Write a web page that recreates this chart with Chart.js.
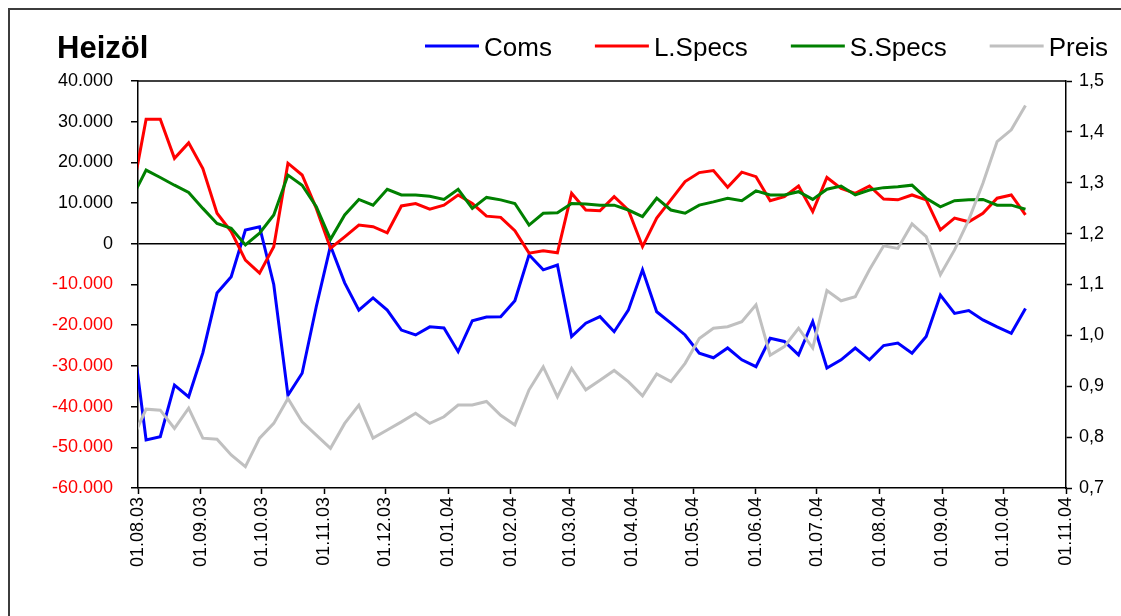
<!DOCTYPE html>
<html><head><meta charset="utf-8">
<script src="https://cdn.jsdelivr.net/npm/chart.js@4.4.1/dist/chart.umd.min.js"></script>
<style>html,body{margin:0;padding:0;background:#fff}canvas{display:block}</style>
</head><body>
<canvas id="c" width="1121" height="616"></canvas>
<script>
// ---- data ----
const chartTitle = 'Heizöl';
const seriesNames = ['Coms', 'L.Specs', 'S.Specs', 'Preis'];
const dates = [
  '29.07.03','05.08.03','12.08.03','19.08.03','26.08.03','02.09.03','09.09.03','16.09.03','23.09.03','30.09.03',
  '07.10.03','14.10.03','21.10.03','28.10.03','04.11.03','11.11.03','18.11.03','25.11.03','02.12.03','09.12.03',
  '16.12.03','23.12.03','30.12.03','06.01.04','13.01.04','20.01.04','27.01.04','03.02.04','10.02.04','17.02.04',
  '24.02.04','02.03.04','09.03.04','16.03.04','23.03.04','30.03.04','06.04.04','13.04.04','20.04.04','27.04.04',
  '04.05.04','11.05.04','18.05.04','25.05.04','01.06.04','08.06.04','15.06.04','22.06.04','29.06.04','06.07.04',
  '13.07.04','20.07.04','27.07.04','03.08.04','10.08.04','17.08.04','24.08.04','31.08.04','07.09.04','14.09.04',
  '21.09.04','28.09.04','05.10.04','12.10.04'
];
const coms = [
  -21000,-48200,-47400,-34700,-37600,-26800,-12100,-8100,3400,4200,
  -10000,-37200,-31800,-15400,-500,-9600,-16300,-13300,-16300,-21200,
  -22400,-20400,-20700,-26500,-18900,-18000,-17900,-14000,-2700,-6400,
  -5200,-22800,-19500,-17900,-21600,-16300,-6400,-16700,-19500,-22400,
  -26900,-28000,-25600,-28500,-30200,-23200,-24000,-27300,-19100,-30500,
  -28500,-25600,-28500,-25000,-24400,-26900,-22800,-12600,-17100,-16400,
  -18700,-20400,-22000,-15900
];
const lSpecs = [
  12000,30600,30600,21000,24800,18500,7500,3000,-4000,-7200,
  -700,19800,16900,8700,-1100,1700,4600,4200,2700,9300,
  9900,8500,9500,12000,9900,6800,6500,3200,-2300,-1700,
  -2200,12400,8300,8100,11600,8300,-700,6300,10800,15300,
  17500,18000,13900,17600,16500,10600,11600,14200,7900,16300,
  13600,12400,14200,11000,10800,12000,10800,3400,6300,5400,
  7500,11200,12000,7100
];
const sSpecs = [
  11300,18100,16300,14400,12600,8700,5000,3800,-300,2600,
  7100,16900,14400,9100,1100,7100,10900,9500,13400,12000,
  12000,11700,10900,13400,8700,11400,10800,9900,4600,7500,
  7600,9900,9800,9500,9500,8300,6700,11200,8300,7500,
  9500,10300,11200,10600,13000,12000,12000,12800,10900,13400,
  14200,12000,13200,13800,14000,14400,11200,9100,10600,10800,
  10900,9500,9500,8500
];
const preis = [
  0.794,0.855,0.853,0.817,0.857,0.798,0.796,0.765,0.742,0.798,
  0.827,0.876,0.830,0.804,0.778,0.827,0.863,0.798,0.814,0.830,
  0.847,0.827,0.840,0.863,0.863,0.870,0.843,0.824,0.893,0.938,
  0.879,0.935,0.893,0.912,0.931,0.909,0.881,0.924,0.909,0.945,
  0.994,1.014,1.017,1.027,1.060,0.961,0.978,1.014,0.975,1.088,
  1.068,1.076,1.129,1.176,1.171,1.219,1.194,1.119,1.168,1.227,
  1.299,1.381,1.404,1.452
];
const tickLabels = ['01.08.03','01.09.03','01.10.03','01.11.03','01.12.03','01.01.04','01.02.04','01.03.04',
  '01.04.04','01.05.04','01.06.04','01.07.04','01.08.04','01.09.04','01.10.04','01.11.04'];
const leftRange = [-60000, 40000, 10000];
const rightRange = [0.7, 1.5, 0.1];

// ---- helpers ----
const ORIGIN = Date.UTC(2003, 7, 1);
function dayOf(s) { const p = s.split('.').map(Number); return (Date.UTC(2000 + p[2], p[1] - 1, p[0]) - ORIGIN) / 86400000; }
const xDays = dates.map(dayOf);
const tickDays = tickLabels.map(dayOf);
function pts(arr) { return arr.map((v, i) => ({ x: xDays[i], y: v })); }
function fmtThousands(v) {
  const s = Math.round(Math.abs(v)).toString().replace(/\B(?=(\d{3})+(?!\d))/g, '.');
  return (v < 0 ? '-' : '') + s;
}

const FONT = '"Liberation Sans", Arial, Helvetica, sans-serif';
Chart.defaults.font.family = FONT;
Chart.defaults.font.size = 18;
Chart.defaults.color = '#000';

const colors = ['#0000FF', '#FF0000', '#008000', '#C0C0C0'];

const decoPlugin = {
  id: 'deco',
  beforeDraw(chart) {
    const ctx = chart.ctx;
    ctx.save();
    ctx.fillStyle = '#fff';
    ctx.fillRect(0, 0, chart.width, chart.height);
    ctx.strokeStyle = '#3c3c3c';
    ctx.lineWidth = 2;
    ctx.beginPath();
    ctx.moveTo(9, chart.height + 5);
    ctx.lineTo(9, 9);
    ctx.lineTo(chart.width + 5, 9);
    ctx.stroke();
    ctx.restore();
  },
  afterDraw(chart) {
    const ctx = chart.ctx, a = chart.chartArea;
    ctx.save();
    // plot area top edge
    ctx.strokeStyle = '#000';
    ctx.lineWidth = 1.5;
    ctx.beginPath();
    ctx.moveTo(a.left, a.top);
    ctx.lineTo(a.right, a.top);
    ctx.stroke();
    // title
    ctx.fillStyle = '#000';
    ctx.font = 'bold 31px ' + FONT;
    ctx.textBaseline = 'alphabetic';
    ctx.textAlign = 'left';
    ctx.fillText(chartTitle, 57, 58);
    // legend
    ctx.font = '26px ' + FONT;
    let x = 425;
    const yLine = 46, lineLen = 54, textGap = 5, itemGap = 43;
    chart.data.datasets.forEach(ds => {
      ctx.strokeStyle = ds.borderColor;
      ctx.lineWidth = 3;
      ctx.beginPath();
      ctx.moveTo(x, yLine);
      ctx.lineTo(x + lineLen, yLine);
      ctx.stroke();
      ctx.fillStyle = '#000';
      ctx.fillText(ds.label, x + lineLen + textGap, 56);
      x += lineLen + textGap + ctx.measureText(ds.label).width + itemGap;
    });
    ctx.restore();
  }
};

const datasets = [
  { label: seriesNames[0], data: pts(coms), yAxisID: 'y', order: 4 },
  { label: seriesNames[1], data: pts(lSpecs), yAxisID: 'y', order: 3 },
  { label: seriesNames[2], data: pts(sSpecs), yAxisID: 'y', order: 2 },
  { label: seriesNames[3], data: pts(preis), yAxisID: 'y1', order: 1 }
].map((d, i) => Object.assign(d, {
  borderColor: colors[i], backgroundColor: colors[i], borderWidth: 3,
  pointRadius: 0, pointHoverRadius: 0, tension: 0, clip: 0, borderJoinStyle: 'miter'
}));

new Chart(document.getElementById('c'), {
  type: 'line',
  data: { datasets },
  plugins: [decoPlugin],
  options: {
    responsive: false,
    animation: false,
    events: [],
    layout: { padding: { top: 81, left: 0, right: 0, bottom: 0 } },
    plugins: { legend: { display: false }, title: { display: false }, tooltip: { enabled: false } },
    scales: {
      x: {
        type: 'linear', position: 'bottom',
        min: tickDays[0], max: tickDays[tickDays.length - 1],
        afterBuildTicks: s => { s.ticks = tickDays.map(v => ({ value: v })); },
        afterFit: s => { s.height = 128; },
        ticks: {
          autoSkip: false, maxRotation: 90, minRotation: 90, padding: 3,
          color: '#000', font: { size: 18 },
          callback: (v, i) => tickLabels[i]
        },
        grid: { drawOnChartArea: false, tickLength: 6, tickColor: '#000', tickWidth: 1.5 },
        border: { display: true, color: '#000', width: 1.5 }
      },
      y: {
        position: 'left',
        min: leftRange[0], max: leftRange[1],
        ticks: {
          stepSize: leftRange[2], padding: 18, font: { size: 18 },
          color: c => (c.tick && c.tick.value < 0 ? '#FF0000' : '#000'),
          callback: v => fmtThousands(v)
        },
        afterFit: s => { s.width = 138; },
        grid: {
          color: c => (c.tick && c.tick.value === 0 ? '#000' : 'rgba(0,0,0,0)'),
          lineWidth: 1.5, tickLength: 7, tickColor: '#000', tickWidth: 1.5
        },
        border: { display: true, color: '#000', width: 1.5 }
      },
      y1: {
        position: 'right',
        min: rightRange[0], max: rightRange[1],
        ticks: {
          stepSize: rightRange[2], padding: 7, font: { size: 18 }, color: '#000',
          callback: v => v.toFixed(1).replace('.', ',')
        },
        afterFit: s => { s.width = 55; },
        grid: { drawOnChartArea: false, tickLength: 6, tickColor: '#000', tickWidth: 1.5 },
        border: { display: true, color: '#000', width: 1.5 }
      }
    }
  }
});
</script>
</body></html>
